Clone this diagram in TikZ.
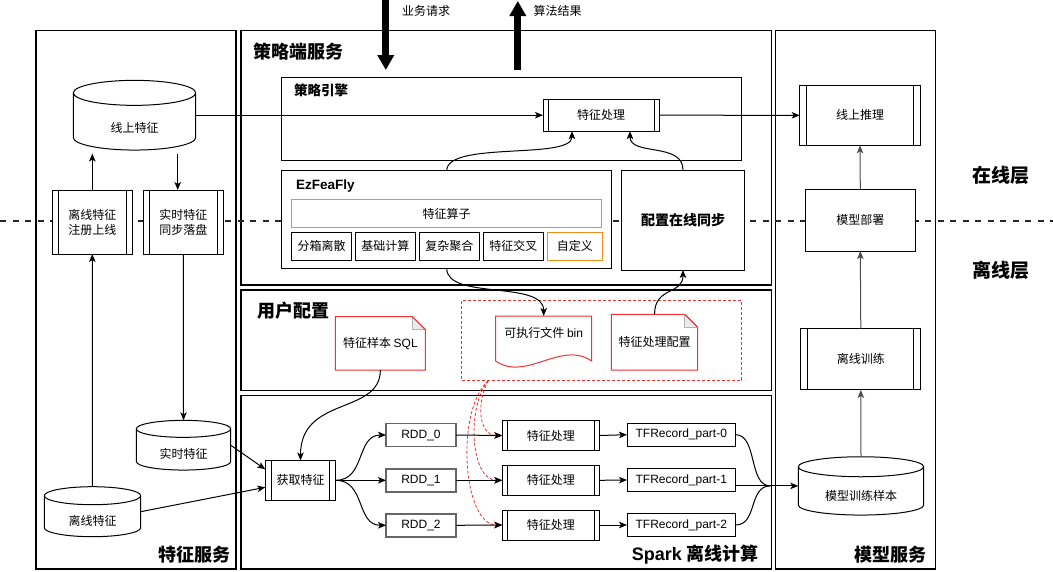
\documentclass[tikz,border=0pt]{standalone}
\usepackage{fontspec}
\setmainfont{Liberation Sans}
\newfontfamily\cjk{Noto Sans CJK SC}
\usetikzlibrary{arrows.meta,calc}
\definecolor{dred}{RGB}{240,50,50}
\definecolor{dorange}{RGB}{245,140,30}
\newcommand\cylnode[7]{%
  \path[draw=black, line width=1pt, fill=white]
    ({#2-#4/2},{#3-#5/2+#6}) -- ({#2-#4/2},{#3+#5/2-#6})
    arc[start angle=180, end angle=360, x radius={#4/2*1pt}, y radius={#6*1pt}]
    -- ({#2+#4/2},{#3-#5/2+#6})
    arc[start angle=0, end angle=180, x radius={#4/2*1pt}, y radius={#6*1pt}] -- cycle;
  \draw[line width=1pt] ({#2-#4/2},{#3-#5/2+#6})
    arc[start angle=180, end angle=360, x radius={#4/2*1pt}, y radius={#6*1pt}];
  \node[minimum width=#4pt, minimum height=#5pt] (#1) at (#2,#3) {};
  \node (#1-t) at (#2,{#3+#6}) {#7};
}
\newcommand\notenode[7]{%
  \path[draw=dred, line width=1pt, fill=white] (#2,#3) -- ({#4-#6},#3) -- (#4,{#3+#6}) -- (#4,#5) -- (#2,#5) -- cycle;
  \path[fill=black!8, draw=black!30, line width=0.6pt] ({#4-#6},#3) -- ({#4-#6},{#3+#6}) -- (#4,{#3+#6});
  \draw[dred, line width=1pt] ({#4-#6},#3) -- (#4,{#3+#6});
  \node[minimum width={(#4-#2)*1pt}, minimum height={(#5-#3)*1pt}] (#1) at ({(#2+#4)/2},{(#3+#5)/2}) {#7};
}
\begin{document}
\begin{tikzpicture}[x=1pt,y=-1pt,
  every node/.style={font=\cjk\fontsize{12}{15}\selectfont, inner sep=0pt, outer sep=0pt, text=black},
  panel/.style={draw, line width=1.2pt},
  box/.style={draw, fill=white, line width=1pt},
  obox/.style={draw=dorange, fill=white, line width=1pt},
  rddbox/.style={draw=black!60, fill=white, line width=1.8pt, font=\rmfamily\fontsize{12}{15}\selectfont},
  tfbox/.style={draw, fill=white, line width=1pt, font=\rmfamily\fontsize{12}{15}\selectfont},
  proc/.style={draw, fill=white, line width=1pt,
    path picture={\draw[line width=1pt]
      ([xshift=#1pt]path picture bounding box.north west) -- ([xshift=#1pt]path picture bounding box.south west)
      ([xshift=-#1pt]path picture bounding box.north east) -- ([xshift=-#1pt]path picture bounding box.south east);}},
  proc/.default=6,
  bigtitle/.style={font=\cjk\bfseries\fontsize{18}{20}\selectfont},
  midtitle/.style={font=\cjk\bfseries\fontsize{13.5}{16}\selectfont},
  arr/.style={line width=1pt, -{Stealth[length=8pt,width=6.5pt,inset=2pt]}},
  garr/.style={line width=1pt, draw=black!70, -{Stealth[length=8pt,width=6.5pt,inset=2pt]}},
  reddash/.style={draw=dred, line width=0.8pt, dash pattern=on 3pt off 2pt, -{Stealth[length=8pt,width=6.5pt,inset=2pt]}},
  bigarr/.style={line width=7pt, -{Triangle[length=15pt,width=16pt]}},
  dashline/.style={line width=2pt, draw=black!85, dash pattern=on 6pt off 6.5pt}
]
\useasboundingbox (0,0) rectangle (1053,571);

% panels
\node[panel, minimum width=200pt, minimum height=538.7pt] (pFeat) at (136,299.65) {};
\node[panel, minimum width=530.5pt, minimum height=254.5pt] (pStrat) at (506.25,157.75) {};
\node[panel, minimum width=530.5pt, minimum height=100.5pt] (pUser) at (506.25,340.25) {};
\node[panel, minimum width=530.5pt, minimum height=173.7pt] (pSpark) at (506.25,482.15) {};
\node[panel, minimum width=160pt, minimum height=538.7pt] (pModel) at (855.7,299.65) {};

% layer dashed line
\coordinate (dl) at (0,220.7);
\coordinate (dr) at (1053,220.7);
\draw[dashline] (dl) -- (dr);

% titles
\node[bigtitle, anchor=west] (tStrat) at (253.5,51.5) {策略端服务};
\node[bigtitle, anchor=west] (tUser) at (257,310.7) {用户配置};
\node[bigtitle, anchor=east] (tFeat) at (230.5,555) {特征服务};
\node[bigtitle, anchor=east] (tSpark) at (758,555) {{\rmfamily Spark} 离线计算};
\node[bigtitle, anchor=east] (tModel) at (926,555) {模型服务};
\node[font=\cjk\bfseries\fontsize{19}{21}\selectfont] (tOn) at (1000.5,175) {在线层};
\node[font=\cjk\bfseries\fontsize{19}{21}\selectfont] (tOff) at (1000.5,270) {离线层};

% big arrows
\coordinate (req-s) at (385.8,0);
\coordinate (req-e) at (385.8,70);
\coordinate (alg-s) at (517.8,70);
\coordinate (alg-e) at (517.8,1);
\draw[bigarr] (req-s) -- (req-e);
\draw[bigarr] (alg-s) -- (alg-e);
\node[anchor=west] (lReq) at (402,10.5) {业务请求};
\node[anchor=west] (lAlg) at (533.5,10.5) {算法结果};

% strategy engine
\node[box, minimum width=460pt, minimum height=83pt] (eng) at (511,118.5) {};
\node[midtitle, anchor=west] (tEng) at (294,90.7) {策略引擎};
\node[proc=5, minimum width=116pt, minimum height=32pt] (sfp) at (601,115.2) {特征处理};

% EzFeaFly
\node[box, minimum width=330pt, minimum height=97.6pt] (ez) at (446.7,219.5) {};
\node[font=\rmfamily\bfseries\fontsize{13.5}{16}\selectfont, anchor=west] (tEz) at (296,186.5) {EzFeaFly};
\node[obox, minimum width=310.4pt, minimum height=28.4pt] (ops) at (446.5,213.5) {特征算子};
\node[box, minimum width=60.4pt, minimum height=28pt] (b1) at (321.5,246) {分箱离散};
\node[box, minimum width=60pt, minimum height=28pt] (b2) at (385.3,246) {基础计算};
\node[box, minimum width=60pt, minimum height=28pt] (b3) at (449.3,246) {复杂聚合};
\node[box, minimum width=60pt, minimum height=28pt] (b4) at (513.3,246) {特征交叉};
\node[obox, minimum width=55pt, minimum height=28pt] (b5) at (574.8,246) {自定义};
\node[box, minimum width=122.8pt, minimum height=100pt, font=\cjk\bfseries\fontsize{14}{16}\selectfont] (cfg) at (683,220) {配置在线同步};

% user config
\node[draw=dred, line width=0.9pt, dash pattern=on 3pt off 2pt, minimum width=280pt, minimum height=79.3pt] (grp) at (601.6,340.35) {};
\notenode{sql}{335.3}{316.7}{425.4}{370}{13}{特征样本 {\rmfamily SQL}}
\notenode{pcf}{611.4}{314.3}{697.7}{370}{13}{特征处理配置}
\path[draw=dred, line width=1pt, fill=white] (495.7,316) -- (591.7,316) -- (591.7,361)
  .. controls (561,340) and (526,382) .. (495.7,361) -- cycle;
\node[minimum width=96pt, minimum height=34pt] (bin) at (543.7,333) {可执行文件 {\rmfamily bin}};

% left feature service
\cylnode{onl}{134.5}{115.2}{122.4}{69.7}{12.5}{线上特征}
\node[proc, minimum width=80pt, minimum height=64pt, align=center] (reg) at (92.3,222) {离线特征\\注册上线};
\node[proc, minimum width=80pt, minimum height=64pt, align=center] (syn) at (183.3,222) {实时特征\\同步落盘};
\cylnode{rtf}{183.5}{445.2}{94.4}{49.7}{8.5}{实时特征}
\cylnode{off}{92.5}{511.7}{96.4}{50}{9}{离线特征}

% spark
\node[proc, minimum width=70.4pt, minimum height=39.6pt] (get) at (300.5,480.3) {获取特征};
\node[rddbox, minimum width=70pt, minimum height=23pt] (rdd0) at (421,435) {RDD\_0};
\node[rddbox, minimum width=70pt, minimum height=23pt] (rdd1) at (421,480.3) {RDD\_1};
\node[rddbox, minimum width=70pt, minimum height=23pt] (rdd2) at (421,525.3) {RDD\_2};
\node[proc=5, minimum width=97.2pt, minimum height=30pt] (fp0) at (550.9,435.5) {特征处理};
\node[proc=5, minimum width=97.2pt, minimum height=30pt] (fp1) at (550.9,480.3) {特征处理};
\node[proc=5, minimum width=97.2pt, minimum height=30pt] (fp2) at (550.9,525) {特征处理};
\node[tfbox, minimum width=108.6pt, minimum height=23pt] (tf0) at (681.3,434.7) {TFRecord\_part-0};
\node[tfbox, minimum width=108.6pt, minimum height=23pt] (tf1) at (681.3,480) {TFRecord\_part-1};
\node[tfbox, minimum width=108.6pt, minimum height=23pt] (tf2) at (681.3,525) {TFRecord\_part-2};

% model service
\node[proc=7, minimum width=120.6pt, minimum height=60pt] (inf) at (860,115.3) {线上推理};
\node[box, minimum width=110pt, minimum height=61.7pt] (dep) at (860.3,220.2) {模型部署};
\node[proc=7, minimum width=120.3pt, minimum height=61.3pt] (trn) at (860.8,359.3) {离线训练};
\cylnode{smp}{861}{485.9}{125.4}{58.3}{10}{模型训练样本}

% connectors: online
\draw[arr] (onl.east) -- (sfp.west);
\draw[arr] (sfp.east) -- (inf.west);
\draw[arr, shorten >=3.5pt] (reg.north) -- (reg.north |- onl.south);
\coordinate (a4) at ($(syn.north)+(-5.6,0)$);
\draw[arr, shorten <=3.5pt] (a4 |- onl.south) -- (a4);
\draw[arr] (off.north) -- (reg.south);
\draw[arr] (syn.south) -- (rtf.north);
\draw[arr] (rtf.east) -- ($(get.west)+(0,-11)$);
\draw[arr] (off.east) -- ($(get.west)+(0,7)$);

% strategy curves
\draw[arr] (ez.north) .. controls +(0,-30) and +(0,29) .. ($(sfp.south)+(-29,0)$);
\draw[arr] (cfg.north) .. controls +(0,-28) and +(0,25) .. ($(sfp.south)+(29,0)$);
\draw[arr] (ez.south) .. controls +(0,32) and +(0,-36) .. (bin.north);
\draw[arr] (pcf.north) .. controls +(0,-28) and +(0,25) .. (cfg.south);
\draw[arr] (sql.south) .. controls +(0,45) and +(0,-65) .. (get.north);

% red dashed
\coordinate (rs) at ($(grp.south west)+(26.7,0.7)$);
\draw[reddash] (rs) .. controls +(-12,22) and +(-24,0) .. (fp0.west);
\draw[reddash] (rs) .. controls +(-22,26) and +(-32,0) .. (fp1.west);
\draw[reddash] (rs) .. controls +(-33,29) and +(-40,0) .. (fp2.west);

% spark flow
\draw[arr] (get.east) .. controls +(30,0) and +(-30,0) .. (rdd0.west);
\draw[arr] (get.east) -- (rdd1.west);
\draw[arr] (get.east) .. controls +(30,0) and +(-30,0) .. (rdd2.west);
\draw[arr] (rdd0.east) -- (fp0.west);
\draw[arr] (rdd1.east) -- (fp1.west);
\draw[arr] (rdd2.east) -- (fp2.west);
\draw[arr] (fp0.east) -- (tf0.west);
\draw[arr] (fp1.east) -- (tf1.west);
\draw[arr] (fp2.east) -- (tf2.west);
\coordinate (mrg) at ($(smp.west)+(-28,0)$);
\draw[line width=1pt] (tf0.east) .. controls +(22,0) and +(-22,0) .. (mrg);
\draw[line width=1pt] (tf2.east) .. controls +(22,0) and +(-22,0) .. (mrg);
\draw[arr] (tf1.east |- smp.west) -- (smp.west);

% model flow
\draw[garr] (smp.north) -- (trn.south);
\draw[garr] (trn.north) -- (dep.south);
\draw[garr] (dep.north) -- (inf.south);
\end{tikzpicture}
\end{document}
